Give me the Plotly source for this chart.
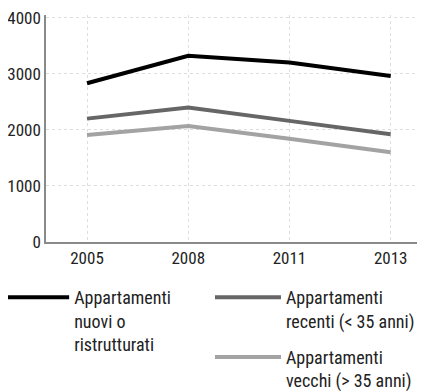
import plotly.graph_objects as go

years = ["2005", "2008", "2011", "2013"]
nuovi = [2830, 3320, 3200, 2960]
recenti = [2200, 2400, 2160, 1920]
vecchi = [1910, 2070, 1840, 1600]
names = ["Appartamenti<br>nuovi o<br>ristrutturati",
         "Appartamenti<br>recenti (< 35 anni)",
         "Appartamenti<br>vecchi (> 35 anni)"]
colors = ["#000000", "#666666", "#a3a3a3"]
y_ticks = [0, 1000, 2000, 3000, 4000]

FONT = "Liberation Sans Narrow, Arial Narrow, Roboto Condensed, sans-serif"

fig = go.Figure()
fig.add_trace(go.Scatter(x=years, y=nuovi, mode="lines", name=names[0],
                         line=dict(color=colors[0], width=4), legend="legend",
                         legendgroup="a"))
fig.add_trace(go.Scatter(x=years, y=recenti, mode="lines", name=names[1],
                         line=dict(color=colors[1], width=4), legend="legend2",
                         legendgroup="b"))
fig.add_trace(go.Scatter(x=years, y=vecchi, mode="lines", name=names[2],
                         line=dict(color=colors[2], width=4), legend="legend2",
                         legendgroup="c"))

grid = dict(showgrid=True, gridcolor="#dedede", griddash="dot", gridwidth=1)

# page body has an 8px default margin, so the figure is sized to the visible area
fig.update_layout(
    width=430, height=384,
    margin=dict(l=38, r=21, t=7, b=150, autoexpand=False),
    paper_bgcolor="white", plot_bgcolor="white",
    font=dict(family=FONT, size=17, color="#222222"),
    xaxis=dict(type="category", range=[-0.405, 3.26], showline=True,
               linecolor="#8a8a8a", linewidth=1.5, ticks="", zeroline=False,
               tickfont=dict(size=17, color="#222222"), **grid),
    yaxis=dict(range=[0, 4048], tickvals=y_ticks, showline=True,
               linecolor="#8a8a8a", linewidth=1.5, ticks="", zeroline=False,
               ticklabeloverflow="allow",
               tickfont=dict(size=17, color="#222222"), **grid),
    legend=dict(x=-0.129, xanchor="left", y=-0.163, yanchor="top",
                font=dict(size=18, color="#222222"), itemwidth=66,
                valign="top", bgcolor="rgba(0,0,0,0)"),
    legend2=dict(x=0.442, xanchor="left", y=-0.163, yanchor="top",
                 tracegroupgap=10,
                 font=dict(size=18, color="#222222"), itemwidth=66,
                 valign="top", bgcolor="rgba(0,0,0,0)"),
    showlegend=True,
)

fig.write_html("out.html")
